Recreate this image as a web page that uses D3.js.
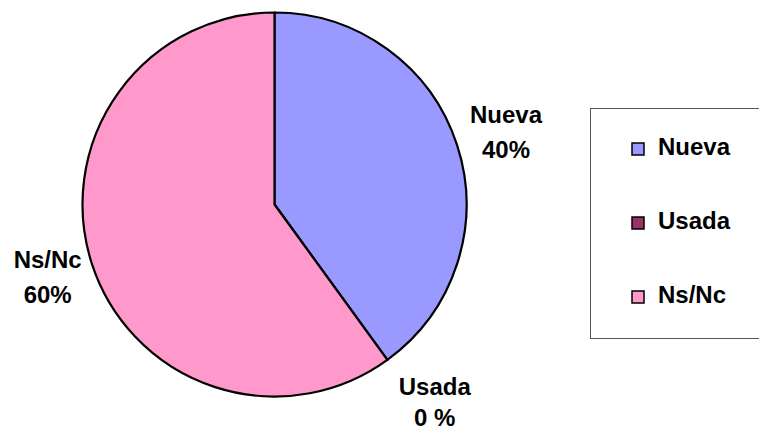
<!DOCTYPE html>
<html>
<head>
<meta charset="utf-8">
<script src="https://cdn.jsdelivr.net/npm/d3@7"></script>
<style>
  body { margin: 0; background: #fff; }
  svg { display: block; font-family: "Liberation Sans", Arial, sans-serif; }
</style>
</head>
<body>
<div id="chart"></div>
<script>
const categories = ["Nueva", "Usada", "Ns/Nc"];
const values = [40, 0, 60];
const pctLabels = ["40%", "0 %", "60%"];
const colors = ["#9999FF", "#993366", "#FF99CC"];

const width = 759, height = 430;
const cx = 274.5, cy = 204.5, radius = 192;

const svg = d3.select("#chart")
    .append("svg")
    .attr("width", width)
    .attr("height", height);

const colorScale = d3.scaleOrdinal()
    .domain(categories)
    .range(colors);

const data = categories.map((c, i) => ({ cat: c, value: values[i], pct: pctLabels[i] }));

const pie = d3.pie()
    .value(d => d.value)
    .sort(null);

const arc = d3.arc()
    .innerRadius(0)
    .outerRadius(radius);

const arcs = pie(data);

const pieG = svg.append("g")
    .attr("transform", `translate(${cx},${cy})`);

// slices
pieG.selectAll("path")
    .data(arcs)
    .join("path")
    .attr("d", arc)
    .attr("fill", d => colorScale(d.data.cat))
    .attr("stroke", "#000")
    .attr("stroke-width", 2.2)
    .attr("stroke-linejoin", "round");

// labels, placed outside the slice mid-angle (anchor = first baseline)
const labelOffsets = {
    "Nueva": { r: 235, dx: 8, dy: -9, gap: 35 },
    "Usada": { r: 225, dx: 28, dy: 8.5, gap: 31 },
    "Ns/Nc": { r: 228, dx: -10, dy: -7, gap: 35 }
};

const labels = pieG.selectAll("g.label")
    .data(arcs)
    .join("g")
    .attr("class", "label")
    .attr("transform", d => {
        const o = labelOffsets[d.data.cat];
        const a = (d.startAngle + d.endAngle) / 2;
        return `translate(${Math.sin(a) * o.r + o.dx},${-Math.cos(a) * o.r + o.dy})`;
    });

labels.append("text")
    .attr("text-anchor", "middle")
    .attr("font-size", "24px")
    .attr("font-weight", "bold")
    .text(d => d.data.cat);

labels.append("text")
    .attr("text-anchor", "middle")
    .attr("y", d => labelOffsets[d.data.cat].gap)
    .attr("font-size", "24px")
    .attr("font-weight", "bold")
    .text(d => d.data.pct);

// legend
const legend = svg.append("g")
    .attr("transform", "translate(590.5,108.5)");

legend.append("rect")
    .attr("width", 180)
    .attr("height", 230)
    .attr("fill", "#fff")
    .attr("stroke", "#555")
    .attr("stroke-width", 1);

const items = legend.selectAll("g.item")
    .data(categories)
    .join("g")
    .attr("class", "item")
    .attr("transform", (d, i) => `translate(41.5,${34.5 + i * 74})`);

items.append("rect")
    .attr("width", 12)
    .attr("height", 12)
    .attr("fill", d => colorScale(d))
    .attr("stroke", "#000")
    .attr("stroke-width", 1.5);

items.append("text")
    .attr("x", 26)
    .attr("y", 12)
    .attr("font-size", "24px")
    .attr("font-weight", "bold")
    .text(d => d);
</script>
</body>
</html>
